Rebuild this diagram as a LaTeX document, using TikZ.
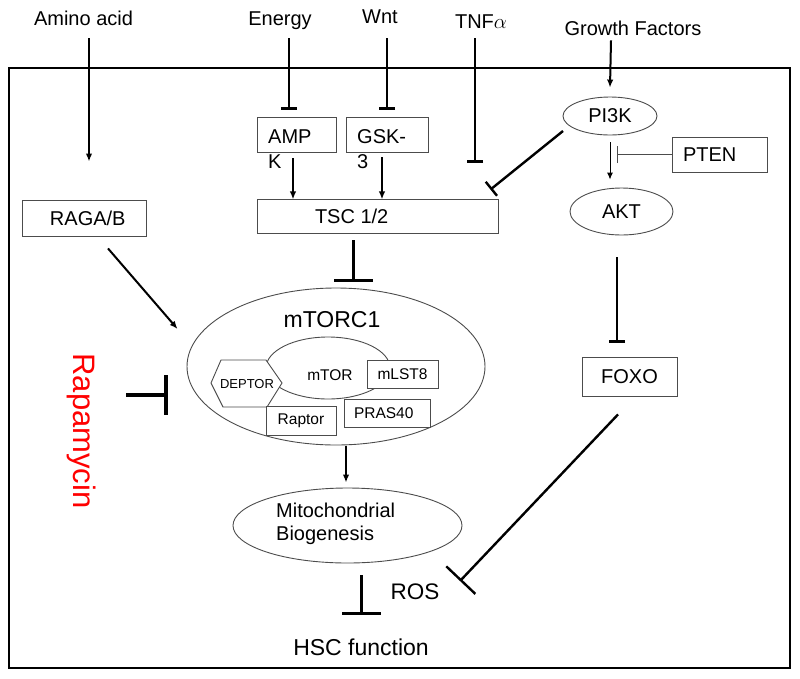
\documentclass[tikz,border=0pt]{standalone}
\usepackage{fontspec}
\setmainfont{Liberation Sans}
\usetikzlibrary{arrows.meta,shapes.geometric,calc}
\begin{document}
\begin{tikzpicture}[x=1pt,y=-1pt,
  txt/.style={inner sep=0pt, anchor=base, font=\fontsize{20}{24}\selectfont, text height=14.5pt, text depth=4.2pt},
  mtxt/.style={inner sep=0pt, anchor=base west, align=left},
  box/.style={draw=black!70, line width=0.9pt, fill=white, inner sep=0pt, font=\fontsize{20}{24}\selectfont},
  sbox/.style={box, font=\fontsize{15.5}{18}\selectfont},
  ell/.style={ellipse, draw=black!70, line width=0.9pt, inner sep=0pt, font=\fontsize{20}{24}\selectfont},
  act/.style={line width=2pt, -{Latex[length=8pt,width=6.5pt]}},
  thinact/.style={line width=1pt, -{Latex[length=7pt,width=6pt]}},
  inh/.style={line width=2.6pt, -{Bar[width=16pt]}},
  binh/.style={line width=3pt, -{Bar[width=39pt]}},
]
\useasboundingbox (0,0) rectangle (800,678);
% cell frame
\draw[line width=2.5pt] (9,68) rectangle (790,668);

% outside signals
\node[txt] (amino) at (83.5,25) {Amino acid};
\node[txt] (energy) at (280,25) {Energy};
\node[txt] (wnt) at (380,23) {Wnt};
\node[txt] (tnf) at (481,28) {TNF$\alpha$};
\node[txt] (gf) at (633,35) {Growth Factors};

% boxes
\node[box, minimum width=124pt, minimum height=36pt] (raga) at (84,218) {\makebox[124pt][l]{\hspace{28pt}RAGA/B}};
\node[box, minimum width=79pt, minimum height=35pt] (ampk) at (296.5,134.5) {};
\node[box, minimum width=82pt, minimum height=35pt] (gsk) at (387,134.5) {};
\node[box, minimum width=241pt, minimum height=34pt] (tsc) at (377.5,216) {\makebox[241pt][l]{\hspace{58pt}TSC 1/2}};
\node[box, minimum width=95pt, minimum height=35pt] (pten) at (719.5,154.5) {\makebox[95pt][l]{\hspace{11pt}PTEN}};
\node[box, minimum width=95pt, minimum height=39pt] (foxo) at (629.5,376.5) {FOXO};
\node[ell, minimum width=94pt, minimum height=38pt] (pi3k) at (610,116) {PI3K};
\node[ell, minimum width=103pt, minimum height=47pt] (akt) at (621.5,211.5) {AKT};

% AMPK / GSK-3 texts overflowing their boxes (anchor = baseline of last line)
\node[mtxt, font=\fontsize{20}{25}\selectfont] (ampktxt) at (268,168) {AMP\\K};
\node[mtxt, font=\fontsize{20}{25}\selectfont] (gsktxt) at (357,168) {GSK-\\3};

% mTORC1 complex
\node[ell, minimum width=298pt, minimum height=157pt] (mtorc1) at (336,366.5) {};
\node[txt, font=\fontsize{23}{27}\selectfont] (mtorc1txt) at (332,327) {mTORC1};
\node[ell, minimum width=124pt, minimum height=62pt] (mtor) at (328,368) {};
\draw[draw=black!70, line width=0.9pt, fill=white] (211,383) -- (221,360) -- (266,360) -- (282,383) -- (267,407) -- (223,407) -- cycle;
\node[txt, font=\fontsize{13}{15}\selectfont, text height=, text depth=] (deptor) at (247,388) {DEPTOR};
\node[txt, font=\fontsize{15.5}{18}\selectfont, text height=, text depth=] (mtortxt) at (330,380) {mTOR};
\node[sbox, minimum width=71pt, minimum height=28pt] (mlst8) at (402.5,374) {mLST8};
\node[sbox, minimum width=70pt, minimum height=29pt] (raptor) at (301,420.5) {Raptor};
\node[sbox, minimum width=86pt, minimum height=28pt] (pras40) at (387,413) {\makebox[86pt][l]{\hspace{10pt}PRAS40}};

% mitochondrial biogenesis
\node[ell, minimum width=229pt, minimum height=75pt] (mito) at (347.5,525.5) {};
\node[mtxt, font=\fontsize{20}{23}\selectfont] (mitotxt) at (276,540) {Mitochondrial\\Biogenesis};

\node[txt, font=\fontsize{22.5}{26}\selectfont] (ros) at (415,599) {ROS};
\node[txt, font=\fontsize{23}{27}\selectfont] (hsc) at (361,655) {HSC function};
\node[inner sep=0pt, anchor=base, rotate=-90, text=red, font=\fontsize{31}{36}\selectfont] (rapa) at (73,431) {Rapamycin};

% connectors
\draw[act] ($(amino.south)+(5.5,9)$) -- ($(raga.north)+(5,-38)$);
\draw[inh] ($(energy.south)+(9,9)$) -- ($(ampk.north)+(-7.5,-7)$);
\draw[inh] ($(wnt.south)+(7,11)$) -- ($(gsk.north)+(0,-7)$);
\draw[inh] ($(tnf.south)+(-6,6)$) -- ($(tsc.north)+(97.5,-36)$);
\draw[act] ($(gf.south)+(-22,1)$) -- ($(pi3k.north)+(0,-9)$);
\draw[act] ($(ampk.south)+(-3.5,6)$) -- ($(ampk.south)+(-3.5,47)$);
\draw[act] ($(gsk.south)+(-5,5)$) -- ($(gsk.south)+(-5,47)$);
\draw[line width=2.4pt, -{Bar[width=18pt]}] ($(pi3k.center)+(-47,15)$) -- ($(tsc.north east)+(-8,-9)$);
\draw[thinact] ($(pi3k.south)+(0,7)$) -- ($(akt.north)+(-11.5,-8)$);
\draw[draw=black!70, line width=0.9pt, -{Bar[width=17pt]}] (pten.west) -- ($(pten.west)+(-55,0)$);
\draw[inh] ($(akt.south)+(-4.5,22)$) -- ($(foxo.north)+(-12.5,-14)$);
\draw[line width=2.4pt, -{Bar[width=40pt]}] ($(foxo.south)+(-11.5,18)$) -- ($(ros.base)+(45,-18)$);
\draw[binh] ($(tsc.south)+(-24.5,7)$) -- ($(mtorc1.north)+(17,-6)$);
\draw[act] ($(raga.south)+(24,12)$) -- ($(mtorc1.west)+(-9,-37.5)$);
\draw[line width=4pt, -{Bar[width=40pt]}] ($(rapa.base)+(53,-36)$) -- ($(rapa.base)+(95,-36)$);
\draw[act] ($(mtorc1.south)+(10,1)$) -- ($(mito.north)+(-1.5,-5)$);
\draw[binh] ($(mito.south)+(13.5,12)$) -- ($(mito.south)+(13.5,52)$);
\end{tikzpicture}
\end{document}
